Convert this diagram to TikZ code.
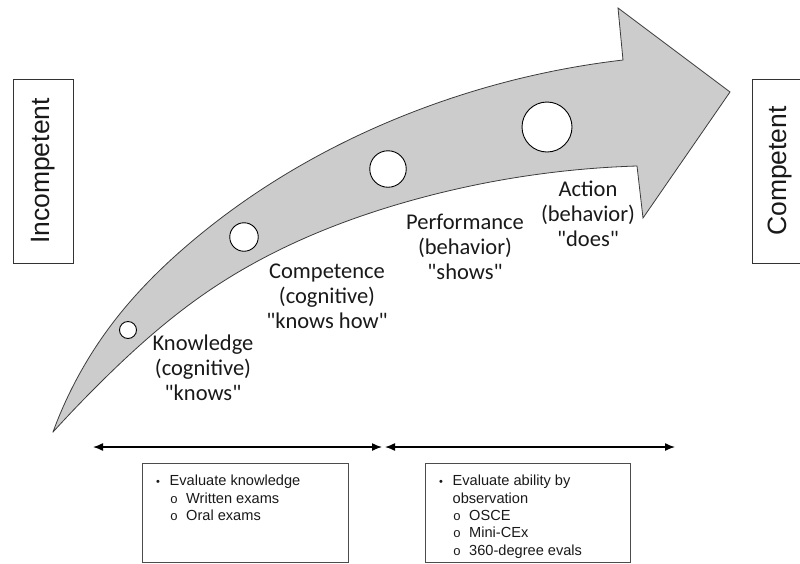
\documentclass[tikz,border=0pt]{standalone}
\usepackage{fontspec}
\setmainfont{Carlito}
\newfontfamily\arialf{Liberation Sans}
\newfontfamily\courf{Liberation Mono}
\usetikzlibrary{arrows.meta,hobby}
\definecolor{arrowfill}{RGB}{204,204,204}
\definecolor{edgegray}{RGB}{60,60,60}
\tikzset{
  stagelabel/.style={align=center, inner sep=0pt, font=\fontsize{22.5}{25}\selectfont, text=black!90},
  dot/.style={circle, draw=black, line width=0.9pt, fill=white, inner sep=0pt},
  sidebox/.style={draw=black!80, line width=0.8pt, minimum width=60pt, minimum height=184pt, inner sep=0pt},
  sidetext/.style={rotate=90, font=\arialf\fontsize{26.5}{30}\selectfont, text=black!90},
  listbox/.style={draw=black!70, line width=0.8pt},
  listtext/.style={anchor=north west, inner sep=0pt, align=left, font=\arialf\fontsize{14.6}{17.4}\selectfont, text=black!90},
  span/.style={{Latex[length=10pt,width=8pt]}-{Latex[length=10pt,width=8pt]}, line width=1.4pt}
}
\newcommand{\q}{\textquotedbl}
\newcommand{\lvlone}[1]{\makebox[13.5pt][l]{\fontsize{11}{11}\selectfont\textbullet}#1}
\newcommand{\lvltwo}[1]{\hspace{14pt}\makebox[16pt][l]{{\courf\fontsize{13}{13}\selectfont o}}#1}
\newcommand{\lvlcont}[1]{\hspace{13.5pt}#1}
\begin{document}
\begin{tikzpicture}[x=1pt,y=-1pt]
\useasboundingbox (0,0) rectangle (800,563);
% big curved arrow
\draw[fill=arrowfill, draw=edgegray, line width=0.8pt, line join=miter]
  (53,432) to[curve through={(115,320) (190,243) (413,112)}] (623,60)
  -- (618,8) -- (730,92) -- (643,218) -- (637,166)
  to[curve through={(413,200) (207,292) (103,380)}] (53,432)
  -- cycle;
% stage circles
\node[dot, minimum size=17pt] (c1) at (128,330) {};
\node[dot, minimum size=28.5pt] (c2) at (244,237) {};
\node[dot, minimum size=36.5pt] (c3) at (388,169) {};
\node[dot, minimum size=50pt] (c4) at (547,127) {};
% stage labels
\node[stagelabel] (l1) at (203,368) {Knowledge\\(cognitive)\\\q knows\q};
\node[stagelabel] (l2) at (327,296) {Competence\\(cognitive)\\\q knows how\q};
\node[stagelabel] (l3) at (465,247) {Performance\\(behavior)\\\q shows\q};
\node[stagelabel] (l4) at (588,214) {Action\\(behavior)\\\q does\q};
% side boxes
\node[sidebox] (inc) at (43,171) {};
\node[sidetext] (inct) at (inc.center) {Incompetent};
\node[sidebox] (comp) at (782,171) {};
\node[sidetext] (compt) at (780,171) {Competent};
% span arrows
\coordinate (a1) at (93,447);
\coordinate (a2) at (382,447);
\coordinate (b1) at (385,447);
\coordinate (b2) at (675,447);
\draw[span] (a1) -- (a2);
\draw[span] (b1) -- (b2);
% list boxes
\draw[listbox] (142,463) rectangle (348,562);
\draw[listbox] (425,463) rectangle (630,562);
\node[listtext] (t1) at (156,475) {\lvlone{Evaluate knowledge}\\\lvltwo{Written exams}\\\lvltwo{Oral exams}};
\node[listtext] (t2) at (439,475) {\lvlone{Evaluate ability by}\\\lvlcont{observation}\\\lvltwo{OSCE}\\\lvltwo{Mini-CEx}\\\lvltwo{360-degree evals}};
\end{tikzpicture}
\end{document}
